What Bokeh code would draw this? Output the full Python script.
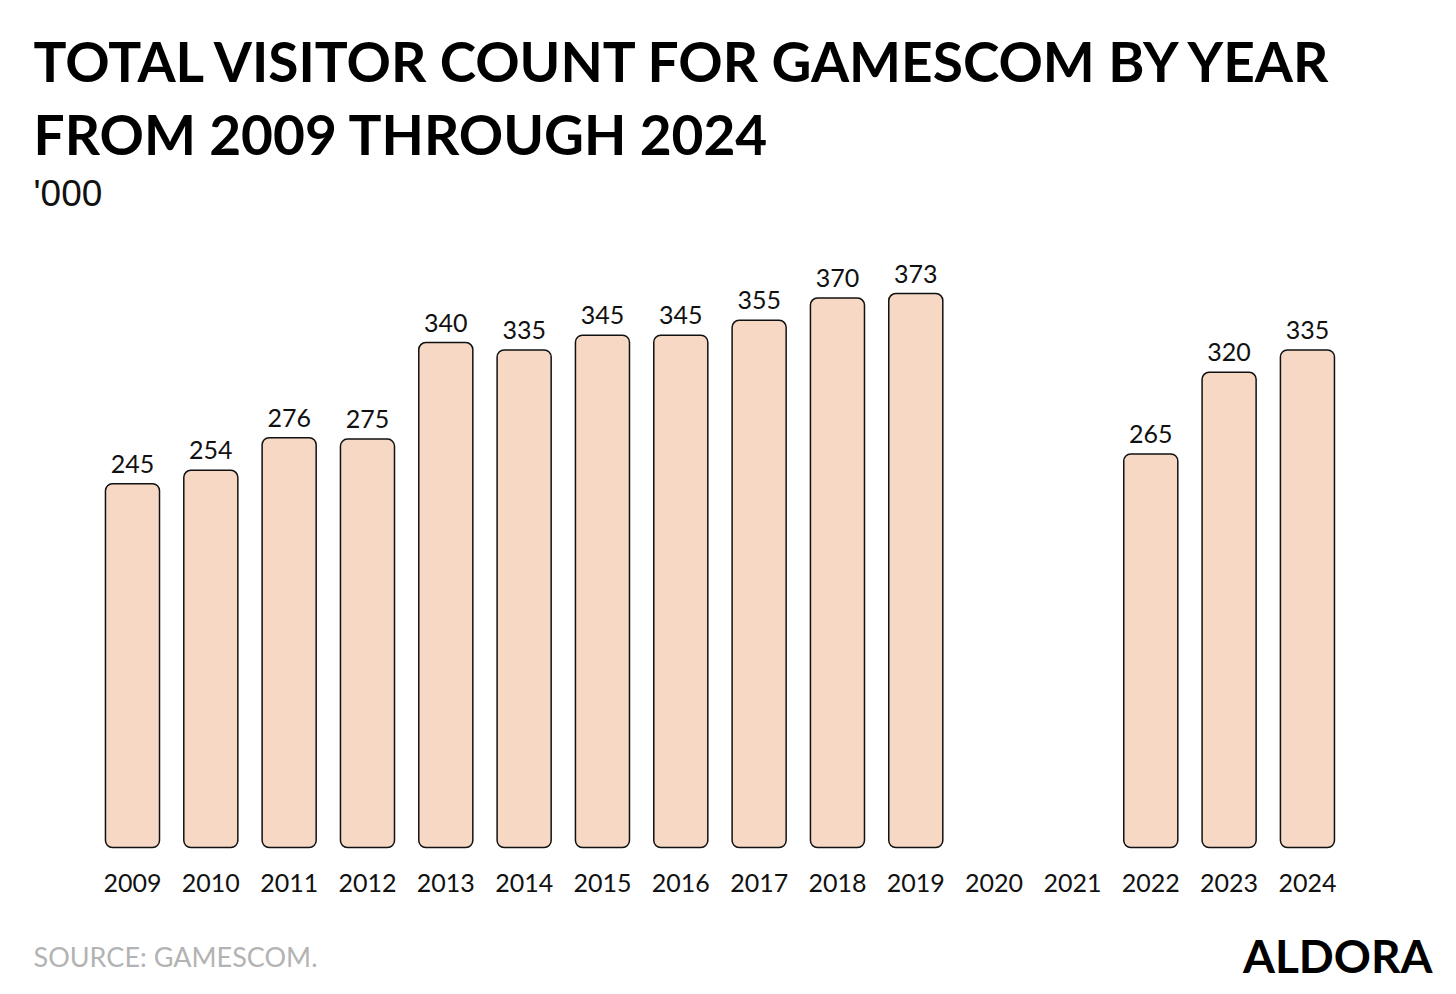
from bokeh.plotting import figure
from bokeh.models import ColumnDataSource, Label, Range1d
from bokeh.core.properties import value
from bokeh.embed import file_html
from bokeh.resources import INLINE

years = ["2009", "2010", "2011", "2012", "2013", "2014", "2015", "2016",
         "2017", "2018", "2019", "2020", "2021", "2022", "2023", "2024"]
visitors = [245, 254, 276, 275, 340, 335, 345, 345, 355, 370, 373,
            None, None, 265, 320, 335]

title_lines = ["TOTAL VISITOR COUNT FOR GAMESCOM BY YEAR", "FROM 2009 THROUGH 2024"]
unit_label = "'000"
source_text = "SOURCE: GAMESCOM."
brand = "ALDORA"

W, H = 1456, 994
xs = list(range(len(years)))
bx = [i for i, v in zip(xs, visitors) if v is not None]
bv = [v for v in visitors if v is not None]
blab = [str(v) for v in bv]

p = figure(width=W, height=H, output_backend="svg", toolbar_location=None,
           min_border=0, x_range=Range1d(-1.685, 16.903), y_range=Range1d(-98.99, 570.37))
p.axis.visible = False
p.grid.visible = False
p.outline_line_color = None
p.background_fill_color = "white"
p.border_fill_color = "white"

src = ColumnDataSource(dict(x=bx, top=bv, lab=blab))
p.vbar(x="x", top="top", bottom=0, width=0.69, source=src,
       fill_color="#F6D8C5", line_color="#111111", line_width=1.5, border_radius=7)
p.text(x="x", y="top", text="lab", source=src, text_align="center",
       text_baseline="bottom", y_offset=-11, text_font=value("Lato"),
       text_font_size="25px", text_color="#111111")

ysrc = ColumnDataSource(dict(x=xs, y=[0] * len(xs), lab=years))
p.text(x="x", y="y", text="lab", source=ysrc, text_align="center",
       text_baseline="middle", y_offset=36, text_font=value("Lato"),
       text_font_size="25px", text_color="#111111")

for t, yc in zip(title_lines, [934, 861]):
    p.add_layout(Label(x=33, y=yc, x_units="screen", y_units="screen", text=t,
                       text_font="Lato", text_font_style="bold", text_font_size="55px",
                       text_color="#000000", text_baseline="middle"))
p.add_layout(Label(x=33, y=801, x_units="screen", y_units="screen", text=unit_label,
                   text_font="Liberation Sans", text_font_size="37px",
                   text_color="#111111", text_baseline="middle"))
p.add_layout(Label(x=33, y=38, x_units="screen", y_units="screen", text=source_text,
                   text_font="Lato", text_font_size="27px",
                   text_color="#B3B3B3", text_baseline="middle"))
p.add_layout(Label(x=1432, y=39, x_units="screen", y_units="screen", text=brand,
                   text_font="Lato", text_font_style="bold", text_font_size="46px",
                   text_color="#000000", text_baseline="middle", text_align="right"))

open("out.html", "w").write(file_html(p, INLINE))
